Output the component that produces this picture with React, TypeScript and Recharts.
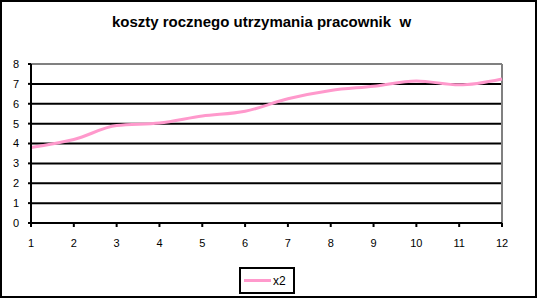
import React from 'react';
import { LineChart, Line, XAxis, YAxis, CartesianGrid, ReferenceLine } from 'recharts';

const months = ['1', '2', '3', '4', '5', '6', '7', '8', '9', '10', '11', '12'];
const x2 = [3.8, 4.2, 4.9, 5.03, 5.38, 5.62, 6.25, 6.67, 6.88, 7.15, 6.95, 7.25];
const yTicks = [0, 1, 2, 3, 4, 5, 6, 7, 8];

const data = months.map((m, i) => ({ m, x2: x2[i] }));

const font = '"Liberation Sans", Arial, sans-serif';

const LegendBox = () => (
  <div
    style={{
      position: 'absolute',
      left: 237,
      top: 265,
      width: 56,
      height: 27,
      border: '2px solid #000',
      boxSizing: 'border-box',
      display: 'flex',
      alignItems: 'center',
      fontFamily: font,
      fontSize: 12,
      color: '#000',
      background: '#fff',
    }}
  >
    <div style={{ width: 27, height: 3, background: '#ff99cc', marginLeft: 3, marginRight: 2 }} />
    <span>x2</span>
  </div>
);

const App: React.FC = () => {
  return (
    <div
      style={{
        position: 'fixed',
        left: 0,
        top: 0,
        width: 537,
        height: 298,
        border: '2px solid #000',
        boxSizing: 'border-box',
        background: '#fff',
        overflow: 'hidden',
      }}
    >
      <div
        style={{
          position: 'absolute',
          left: -2,
          top: 11,
          width: 523,
          textAlign: 'center',
          fontFamily: font,
          fontWeight: 'bold',
          fontSize: 15,
          color: '#000',
          whiteSpace: 'pre',
        }}
      >
        {'koszty rocznego utrzymania pracownik  w'}
      </div>
      <div style={{ position: 'absolute', left: -2, top: -2 }}>
        <LineChart width={537} height={298} data={data} margin={{ top: 64, right: 35, bottom: 45, left: 0 }}>
          <CartesianGrid stroke="#000" strokeWidth={2} vertical={false} />
          <XAxis
            dataKey="m"
            height={30}
            stroke="#000"
            strokeWidth={2}
            tickSize={4}
            tickMargin={12}
            tick={{ fill: '#000', fontSize: 11, fontFamily: font }}
            interval={0}
          />
          <YAxis
            width={31}
            domain={[0, 8]}
            ticks={yTicks}
            interval={0}
            stroke="#000"
            strokeWidth={2}
            tickSize={3}
            tickMargin={9}
            tick={{ fill: '#000', fontSize: 11, fontFamily: font }}
          />
          <ReferenceLine y={8} stroke="#808080" strokeWidth={2} />
          <ReferenceLine x="12" stroke="#808080" strokeWidth={2} />
          <Line
            type="monotone"
            dataKey="x2"
            stroke="#ff99cc"
            strokeWidth={3}
            dot={false}
            isAnimationActive={false}
          />
        </LineChart>
      </div>
      <LegendBox />
    </div>
  );
};

export default App;
